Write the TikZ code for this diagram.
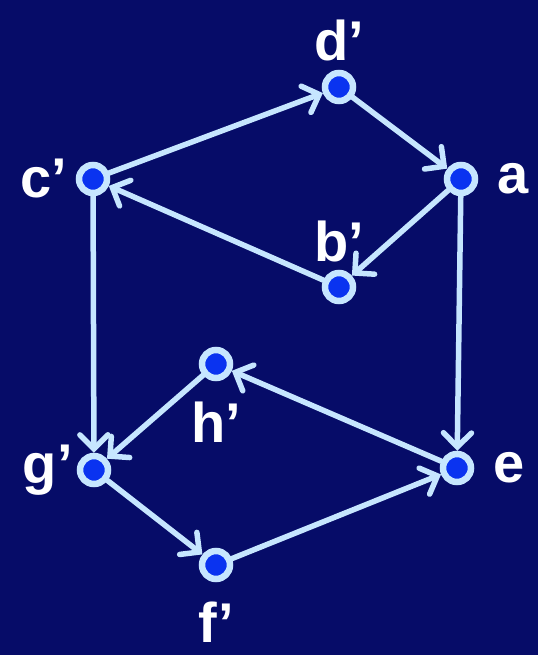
\documentclass[tikz,border=0pt]{standalone}
\usepackage{fontspec}
\setmainfont{Liberation Sans}
\usetikzlibrary{arrows.meta, positioning}
\definecolor{bgNavy}{HTML}{060C68}
\definecolor{vtxBlue}{HTML}{0A33F0}
\definecolor{vtxRing}{HTML}{C6E6FF}

\begin{document}
\begin{tikzpicture}[x=1pt, y=-1pt,
  vtx/.style={circle, draw=vtxRing, line width=6.5pt, fill=vtxBlue,
    minimum size=28pt, inner sep=0pt},
  lbl/.style={text=white, inner sep=0pt,
    font=\fontsize{56}{60}\selectfont\bfseries},
  link/.style={draw=vtxRing, line width=5.5pt, line cap=round,
    -{Straight Barb[length=14pt, width=28pt, line cap=round]}}]
% Background
\fill[bgNavy] (0,0) rectangle (538,655);
\useasboundingbox (0,0) rectangle (538,655);
% Vertices
\node[vtx] (dp) at (339,87)  {};
\node[vtx] (cp) at (93,179)  {};
\node[vtx] (a)  at (461,179) {};
\node[vtx] (bp) at (339,287) {};
\node[vtx] (hp) at (216,364) {};
\node[vtx] (gp) at (94,470)  {};
\node[vtx] (e)  at (457,468) {};
\node[vtx] (fp) at (216,565) {};
% Labels
\node[lbl, above=9pt of dp]  (dpl) {d’};
\node[lbl, left=8pt of cp]   (cpl) {c’};
\node[lbl, right=19pt of a]  (al)  {a};
\node[lbl, above=8pt of bp]  (bpl) {b’};
\node[lbl, below=20pt of hp] (hpl) {h’};
\node[lbl, left=4pt of gp]   (gpl) {g’};
\node[lbl, right=19pt of e]  (el)  {e};
\node[lbl, below=19pt of fp] (fpl) {f’};
% Upper square
\draw[link] (cp) -- (dp);
\draw[link] (dp) -- (a);
\draw[link] (a) -- (bp);
\draw[link] (bp) -- (cp);
% Sides
\draw[link] (cp) -- (gp);
\draw[link] (a) -- (e);
% Lower square
\draw[link] (e) -- (hp);
\draw[link] (hp) -- (gp);
\draw[link] (gp) -- (fp);
\draw[link] (fp) -- (e);
\end{tikzpicture}
\end{document}
